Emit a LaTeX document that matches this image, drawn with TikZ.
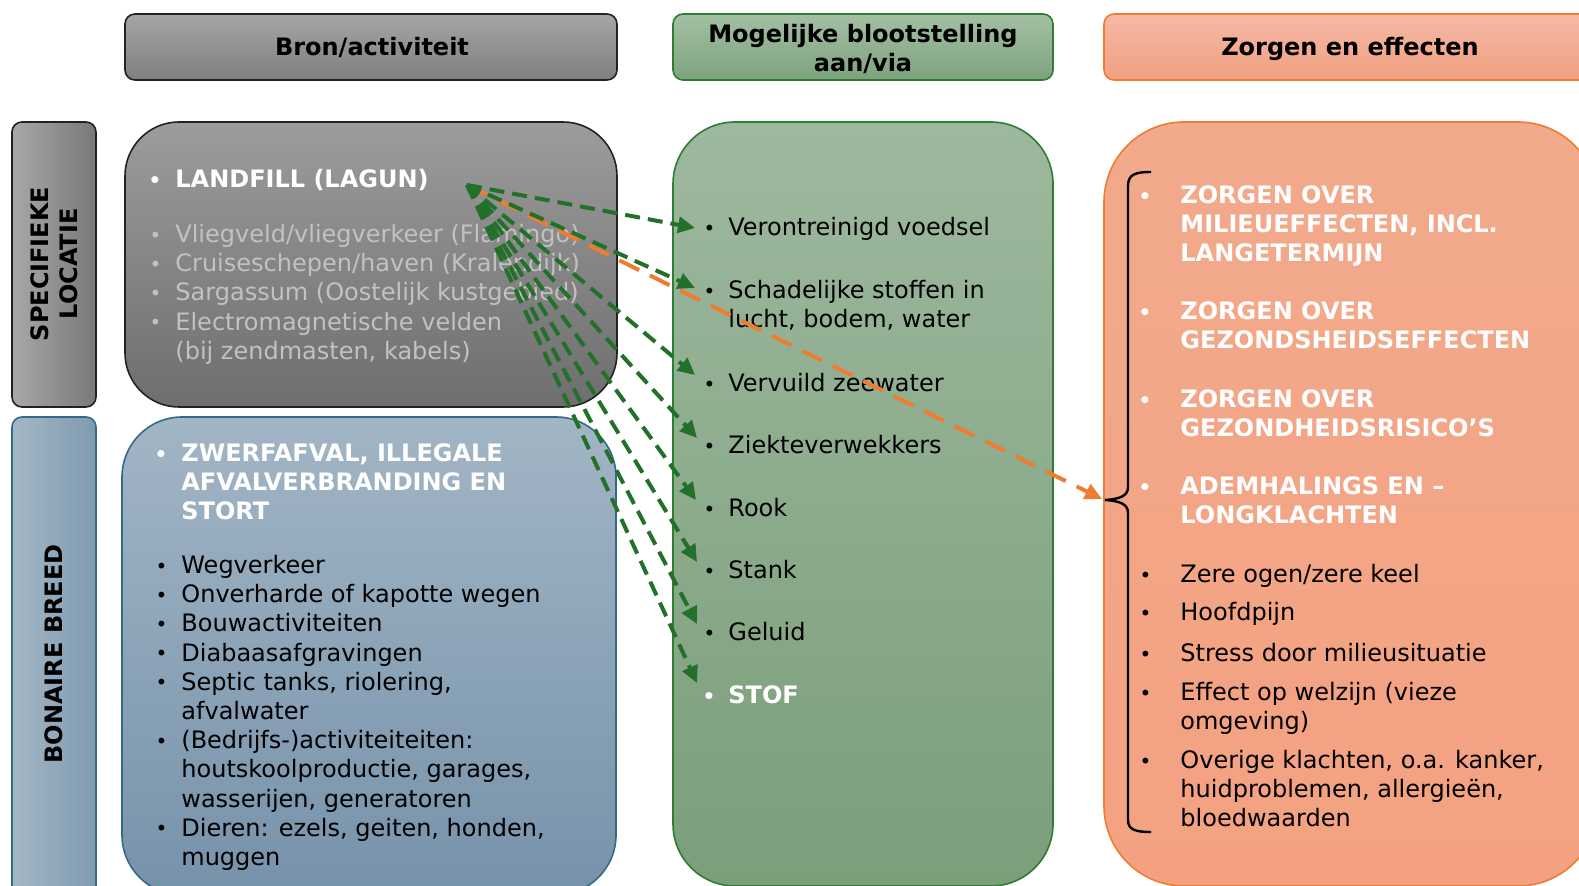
\documentclass[tikz,border=0pt]{standalone}
\usepackage{fontspec}
\setmainfont{DejaVu Sans}
\usetikzlibrary{arrows.meta}
\definecolor{greytext}{HTML}{C2C2C2}
\definecolor{arrgreen}{HTML}{22702A}
\definecolor{arrorange}{HTML}{ED7D31}
\definecolor{gborder}{HTML}{2E7D32}
\definecolor{oborder}{HTML}{ED7D31}
\definecolor{bborder}{HTML}{336B87}
\definecolor{kborder}{HTML}{222222}
\newcommand\itm[1]{\llap{\raisebox{0.2pt}{\fontsize{10}{10}\selectfont\char"2022}\hspace{#1}}}
\begin{document}
\begin{tikzpicture}[x=0.5pt,y=-0.5pt,
  txt/.style={inner sep=0pt, anchor=north west, align=left, font=\fontsize{12}{14.6}\selectfont},
  wtxt/.style={txt, text=white, font=\fontsize{12}{14.6}\selectfont\bfseries},
  hdr/.style={inner sep=0pt, align=center, font=\fontsize{12}{14.6}\selectfont\bfseries},
  garrow/.style={draw=arrgreen, line width=2pt, dash pattern=on 7.5pt off 4pt, -{Triangle[length=8.5pt,width=8pt]}},
  oarrow/.style={draw=arrorange, line width=2pt, dash pattern=on 11pt off 6pt, -{Triangle[length=8.5pt,width=8pt]}},
  boxline/.style={line width=0.8pt}
]
\clip (0,0) rectangle (1579,886);
\fill[white] (0,0) rectangle (1579,886);

% header boxes
\shade[boxline, draw=kborder, rounded corners=5pt, top color={rgb,255:red,166;green,166;blue,166}, bottom color={rgb,255:red,126;green,126;blue,126}] (125,14) rectangle (617,80);
\shade[boxline, draw=gborder, rounded corners=5pt, top color={rgb,255:red,163;green,191;blue,163}, bottom color={rgb,255:red,125;green,163;blue,125}] (673,14) rectangle (1053,80);
\shade[boxline, draw=oborder, rounded corners=5pt, top color={rgb,255:red,245;green,185;blue,166}, bottom color={rgb,255:red,241;green,160;blue,128}] (1104,14) rectangle (1598,80);

% side boxes
\shade[boxline, draw=kborder, rounded corners=5pt, left color={rgb,255:red,168;green,168;blue,168}, right color={rgb,255:red,120;green,120;blue,120}] (12,122) rectangle (96,407);
\shade[boxline, draw=bborder, rounded corners=5pt, left color={rgb,255:red,165;green,183;blue,198}, right color={rgb,255:red,127;green,154;blue,176}] (12,417) rectangle (96,910);

% main boxes
\shade[boxline, draw=kborder, rounded corners=27pt, top color={rgb,255:red,156;green,156;blue,156}, bottom color={rgb,255:red,110;green,110;blue,110}] (125,122) rectangle (617,407);
\shade[boxline, draw=bborder, rounded corners=30pt, top color={rgb,255:red,162;green,181;blue,197}, bottom color={rgb,255:red,118;green,146;blue,170}] (122,417) rectangle (616,895);
\shade[boxline, draw=gborder, rounded corners=31pt, top color={rgb,255:red,158;green,184;blue,158}, bottom color={rgb,255:red,123;green,158;blue,123}] (673,122) rectangle (1053,886);
\shade[boxline, draw=oborder, rounded corners=40pt, top color={rgb,255:red,242;green,170;blue,140}, bottom color={rgb,255:red,243;green,161;blue,129}] (1104,122) rectangle (1598,886);

% headers
\node[hdr, anchor=base] (h1) at (372,56) {Bron/activiteit};
\node[hdr, anchor=north] (h2) at (863,21.5) {\strut Mogelijke blootstelling\\aan/via};
\node[hdr, anchor=base] (h3) at (1350,56) {Zorgen en effecten};

% side labels
\node[hdr, rotate=90] (side1) at (54,264) {SPECIFIEKE\\LOCATIE};
\node[hdr, rotate=90] (side2) at (54,654) {BONAIRE BREED};

% grey box
\node[wtxt] (landfill) at (175,167) {\strut\itm{7pt}LANDFILL (LAGUN)};
\node[txt, text=greytext] (spec) at (175,221.6) {\strut\itm{7pt}Vliegveld/vliegverkeer (Flamingo)\\
\itm{7pt}Cruiseschepen/haven (Kralendijk)\\
\itm{7pt}Sargassum (Oostelijk kustgebied)\\
\itm{7pt}Electromagnetische velden\\
(bij zendmasten, kabels)};

% blue box
\node[wtxt] (zwerf) at (181,440.6) {\strut\itm{7pt}ZWERFAFVAL, ILLEGALE\\AFVALVERBRANDING EN\\STORT};
\node[txt] (bonlist) at (181,552.6) {\strut\itm{7pt}Wegverkeer\\
\itm{7pt}Onverharde of kapotte wegen\\
\itm{7pt}Bouwactiviteiten\\
\itm{7pt}Diabaasafgravingen\\
\itm{7pt}Septic tanks, riolering,\\
afvalwater\\
\itm{7pt}(Bedrijfs-)activiteiteiten:\\
houtskoolproductie, garages,\\
wasserijen, generatoren\\
\itm{7pt}Dieren: ezels, geiten, honden,\\
muggen};

% green box
\node[txt] (g1) at (728,214.6) {\strut\itm{6.5pt}Verontreinigd voedsel};
\node[txt] (g2) at (728,277.6) {\strut\itm{6.5pt}Schadelijke stoffen in\\lucht, bodem, water};
\node[txt] (g3) at (728,370.6) {\strut\itm{6.5pt}Vervuild zeewater};
\node[txt] (g4) at (728,432.6) {\strut\itm{6.5pt}Ziekteverwekkers};
\node[txt] (g5) at (728,495.6) {\strut\itm{6.5pt}Rook};
\node[txt] (g6) at (728,557.6) {\strut\itm{6.5pt}Stank};
\node[txt] (g7) at (728,619.6) {\strut\itm{6.5pt}Geluid};
\node[wtxt] (g8) at (728,682.6) {\strut\itm{6.5pt}STOF};

% orange box
\node[wtxt] (o1) at (1180,182.6) {\strut\itm{14.5pt}ZORGEN OVER\\MILIEUEFFECTEN, INCL.\\LANGETERMIJN};
\node[wtxt] (o2) at (1180,298.6) {\strut\itm{14.5pt}ZORGEN OVER\\GEZONDSHEIDSEFFECTEN};
\node[wtxt] (o3) at (1180,386.6) {\strut\itm{14.5pt}ZORGEN OVER\\GEZONDHEIDSRISICO’S};
\node[wtxt] (o4) at (1180,473.6) {\strut\itm{14.5pt}ADEMHALINGS EN –\\LONGKLACHTEN};
\node[txt] (o5) at (1180,561.6) {\strut\itm{14.5pt}Zere ogen/zere keel};
\node[txt] (o6) at (1180,599.6) {\strut\itm{14.5pt}Hoofdpijn};
\node[txt] (o7) at (1180,640.6) {\strut\itm{14.5pt}Stress door milieusituatie};
\node[txt] (o8) at (1180,679.6) {\strut\itm{14.5pt}Effect op welzijn (vieze\\omgeving)};
\node[txt] (o9) at (1180,747.6) {\strut\itm{14.5pt}Overige klachten, o.a. kanker,\\huidproblemen, allergieën,\\bloedwaarden};

% bracket
\draw[line width=1.2pt, black] (1151,172) .. controls (1136,172) and (1128,174) .. (1128,186) -- (1128,487) .. controls (1128,496) and (1120,499) .. (1105,500) .. controls (1120,501) and (1128,504) .. (1128,513) -- (1128,820) .. controls (1128,830) and (1136,832) .. (1151,832);

% arrows
\coordinate (src) at (467,185);
\coordinate (t1) at (695,228);
\coordinate (t2) at (695,288);
\coordinate (t3) at (695,375);
\coordinate (t4) at (697,438);
\coordinate (t5) at (696,500);
\coordinate (t6) at (697,562);
\coordinate (t7) at (697,624);
\coordinate (t8) at (697,683);
\coordinate (tb) at (1102,499);
\draw[oarrow] (src) -- (tb);
\foreach \t in {t1,t2,t3,t4,t5,t6,t7,t8} \draw[garrow] (src) -- (\t);
\end{tikzpicture}
\end{document}
